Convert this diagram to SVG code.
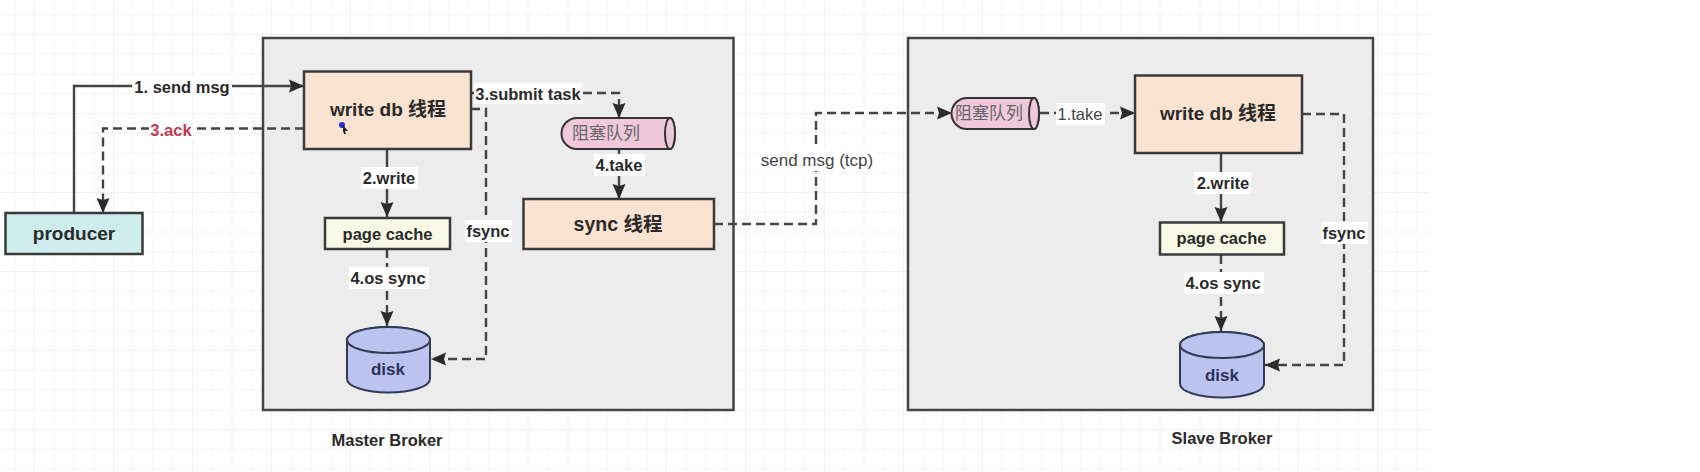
<svg xmlns="http://www.w3.org/2000/svg" width="1700" height="472" viewBox="0 0 1700 472">
<defs>
<pattern id="grid" x="34" y="34" width="79" height="79" patternUnits="userSpaceOnUse">
<path d="M0 0H79M0 0V79" fill="none" stroke="#ebebeb" stroke-width="1.5"/>
<path d="M0 20H79M0 40H79M0 60H79M20 0V79M40 0V79M60 0V79" fill="none" stroke="#f6f6f6" stroke-width="1"/>
</pattern>
<marker id="arr" markerUnits="userSpaceOnUse" markerWidth="16" markerHeight="16" refX="15" refY="8" orient="auto">
<path d="M0 1.500L15 8L0 14.500L2 8Z" fill="#2b2b2b"/>
</marker>
</defs>
<style>
text{font-family:"Liberation Sans","Noto Sans CJK SC",sans-serif;font-weight:700;text-anchor:middle;dominant-baseline:central;fill:#2a2a2a}
.panel{fill:#ececec;stroke:#444;stroke-width:2.5}
.box{stroke:#3a3a3a;stroke-width:2.5}
.thread{fill:#fae3d0}
.cache{fill:#f7f9e6}
.line{fill:none;stroke:#444;stroke-width:2.4;marker-end:url(#arr)}
.dash{stroke-dasharray:9 5}
.bg{fill:#fff}
.lb{font-size:16.500px}
.disk{fill:#bcc3ef;stroke:#333a55;stroke-width:2}
.q{fill:#efc8da;stroke:#333;stroke-width:2}
.qt{font-weight:400;fill:#666;font-size:17px}
.big{font-size:19px}
</style>
<rect x="0" y="0" width="1430" height="472" fill="url(#grid)"/>
<g id="master-broker"><rect class="panel" x="263" y="38" width="470.500" height="372"/></g>
<g id="slave-broker"><rect class="panel" x="908" y="38" width="465" height="372"/></g>

<g id="connectors">
<path class="line" d="M74 213V86H304"/>
<path class="line dash" d="M304 128.500H103V213"/>
<path class="line" d="M387 149V217"/>
<path class="line dash" d="M387 249V326"/>
<path class="line dash" d="M471 93H619V118"/>
<path class="line dash" d="M471 109H486V359H431"/>
<path class="line" d="M619 149V199"/>
<path class="line dash" d="M714 224H816V113H952"/>
<path class="line dash" d="M1040 113H1135"/>
<path class="line" d="M1221 153V222"/>
<path class="line dash" d="M1221 255V331"/>
<path class="line dash" d="M1302 114H1344V365H1265"/>
<rect class="bg" x="132" y="76" width="100" height="20"/><text class="lb" x="182" y="87">1. send msg</text>
<rect class="bg" x="149" y="120" width="44" height="20"/><text class="lb" x="171" y="130" style="fill:#c4384f">3.ack</text>
<rect class="bg" x="361" y="167" width="57" height="22"/><text class="lb" x="389" y="178">2.write</text>
<rect class="bg" x="349" y="267" width="80" height="22"/><text class="lb" x="388" y="278">4.os sync</text>
<rect class="bg" x="474" y="83" width="109" height="21"/><text class="lb" x="528" y="94">3.submit task</text>
<rect class="bg" x="465" y="220" width="47" height="22"/><text class="lb" x="488" y="231">fsync</text>
<rect class="bg" x="594" y="154" width="51" height="22"/><text class="lb" x="619" y="165">4.take</text>
<rect class="bg" x="759" y="149" width="118" height="22"/><text x="817" y="160" style="font-weight:400;fill:#444;font-size:17px">send msg (tcp)</text>
<rect class="bg" x="1056" y="103" width="49" height="22"/><text class="lb" x="1080" y="114" style="font-weight:400;fill:#444">1.take</text>
<rect class="bg" x="1194" y="172" width="57" height="22"/><text class="lb" x="1223" y="183">2.write</text>
<rect class="bg" x="1184" y="272" width="80" height="22"/><text class="lb" x="1223" y="283">4.os sync</text>
<rect class="bg" x="1321" y="222" width="47" height="22"/><text class="lb" x="1344" y="233">fsync</text>
</g>

<g id="producer"><rect class="box" x="5.500" y="213" width="137" height="41" fill="#cdeceb"/><text class="big" x="74" y="233">producer</text></g>

<g id="m-write"><rect class="box thread" x="304" y="71.500" width="167" height="77.500"/><text class="big" x="388" y="109">write db 线程</text>
<circle cx="342" cy="125" r="3" fill="#2a2ad0"/><path d="M343 125l5 6-3 0 1 3-2 0-1-3z" fill="#222"/></g>
<g id="m-cache"><rect class="box cache" x="325" y="218" width="125" height="31"/><text class="lb" x="387.500" y="234">page cache</text></g>
<g id="m-disk"><path class="disk" d="M347 340a41.500 13 0 0 1 83 0V379a41.500 13.500 0 0 1-83 0Z"/><ellipse class="disk" cx="388.500" cy="340" rx="41.500" ry="13"/><text x="388" y="369" style="fill:#2b3358;font-size:17px">disk</text></g>
<g id="m-queue"><path class="q" d="M577 118H670a5 15.500 0 0 1 0 31H577a15.500 15.500 0 0 1 0-31Z"/><ellipse class="q" cx="670" cy="133.500" rx="5" ry="15.500"/><text class="qt" x="606" y="133">阻塞队列</text></g>
<g id="m-sync"><rect class="box thread" x="523.500" y="199" width="190.500" height="50"/><text x="618" y="224" style="font-size:19.500px">sync 线程</text></g>

<g id="s-queue"><path class="q" d="M967 98H1034a5 15.500 0 0 1 0 31H967a15.500 15.500 0 0 1 0-31Z"/><ellipse class="q" cx="1034" cy="113.500" rx="5" ry="15.500"/><text class="qt" x="989" y="113">阻塞队列</text></g>
<g id="s-write"><rect class="box thread" x="1135" y="75.500" width="167" height="77.500"/><text class="big" x="1218" y="113">write db 线程</text></g>
<g id="s-cache"><rect class="box cache" x="1160" y="222.500" width="124" height="32"/><text class="lb" x="1221.500" y="238">page cache</text></g>
<g id="s-disk"><path class="disk" d="M1180 345a42 13 0 0 1 84 0V384a42 13.500 0 0 1-84 0Z"/><ellipse class="disk" cx="1222" cy="345" rx="42" ry="13"/><text x="1222" y="375" style="fill:#2b3358;font-size:17px">disk</text></g>

<text x="387" y="440" style="font-size:16.500px">Master Broker</text>
<text x="1222" y="438" style="font-size:16.500px">Slave Broker</text>
</svg>
